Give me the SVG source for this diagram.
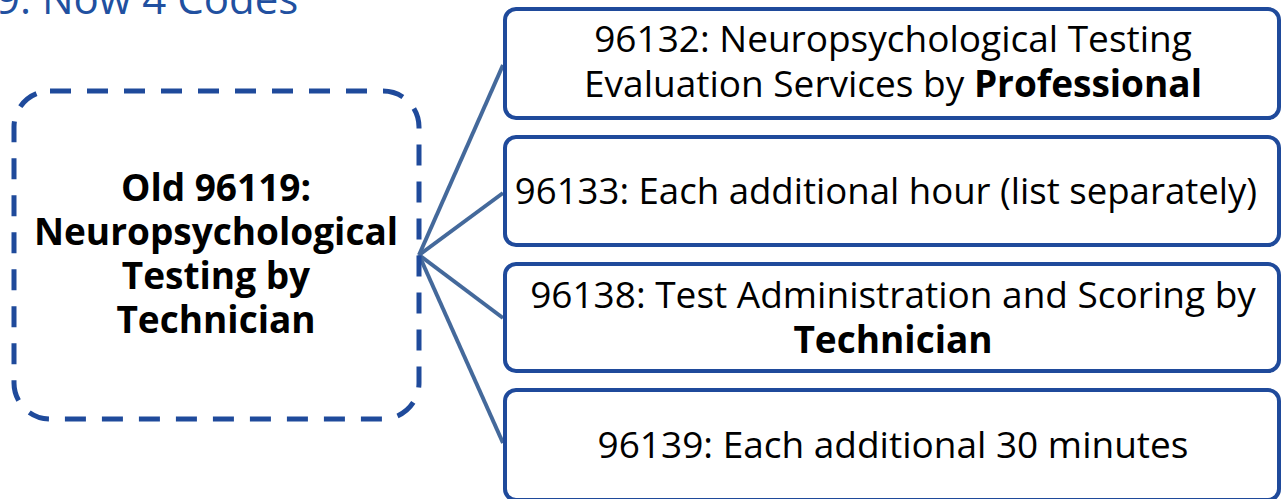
<svg xmlns="http://www.w3.org/2000/svg" width="1286" height="499" viewBox="0 0 1286 499">
<style>
.box{fill:#fff;stroke:#1F4A9B;stroke-width:4}
.t{font-family:"Open Sans","Noto Sans",sans-serif;font-size:37px;fill:#000;text-anchor:middle}
.b{font-weight:bold}
.lt{font-family:"Open Sans","Noto Sans",sans-serif;font-size:37px;font-weight:bold;fill:#000;text-anchor:middle}
.conn{stroke:#44699B;stroke-width:4;fill:none}
</style>
<rect width="1286" height="499" fill="#fff"/>
<text id="title" x="-4" y="14" font-family="'Open Sans','Noto Sans',sans-serif" font-size="42" fill="#2150A0">9. Now 4 Codes</text>
<g id="connectors">
<line class="conn" x1="419" y1="255" x2="503" y2="65"/>
<line class="conn" x1="419" y1="255" x2="503" y2="193"/>
<line class="conn" x1="419" y1="255" x2="503" y2="318"/>
<line class="conn" x1="419" y1="255" x2="503" y2="443"/>
</g>
<g id="old">
<rect x="14" y="91" width="405" height="328" rx="36" fill="none" stroke="#1F4A9B" stroke-width="5" stroke-dasharray="21 16"/>
<text class="lt" x="216" y="201">Old 96119:</text>
<text class="lt" x="216" y="245">Neuropsychological</text>
<text class="lt" x="216" y="289">Testing by</text>
<text class="lt" x="216" y="333">Technician</text>
</g>
<g id="c96132">
<rect class="box" x="505" y="9" width="774" height="109" rx="11"/>
<text class="t" x="893" y="52">96132: Neuropsychological Testing</text>
<text class="t" x="893" y="97">Evaluation Services by <tspan class="b">Professional</tspan></text>
</g>
<g id="c96133">
<rect class="box" x="505" y="137" width="774" height="108" rx="11"/>
<text class="t" x="886" y="204" style="font-size:36.6px">96133: Each additional hour (list separately)</text>
</g>
<g id="c96138">
<rect class="box" x="505" y="264" width="774" height="107" rx="11"/>
<text class="t" x="893" y="308">96138: Test Administration and Scoring by</text>
<text class="t b" x="893" y="353">Technician</text>
</g>
<g id="c96139">
<rect class="box" x="505" y="390" width="774" height="110" rx="11"/>
<text class="t" x="893" y="458">96139: Each additional 30 minutes</text>
</g>
</svg>
